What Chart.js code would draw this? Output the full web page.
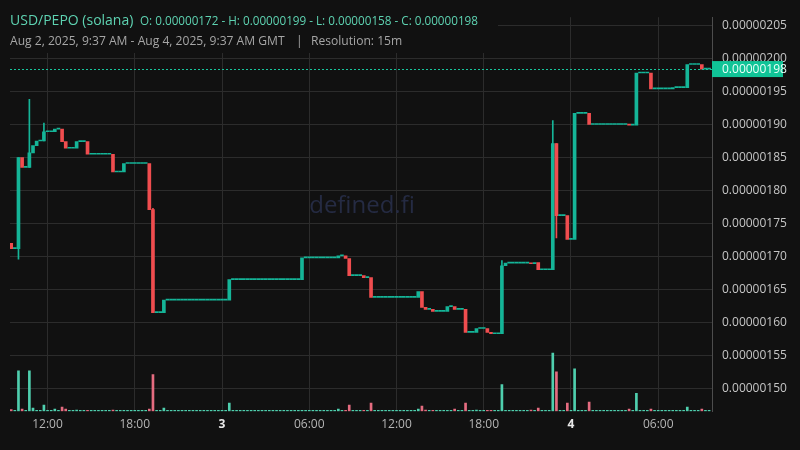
<!DOCTYPE html>
<html>
<head>
<meta charset="utf-8">
<script src="https://cdn.jsdelivr.net/npm/chart.js@4.4.1/dist/chart.umd.min.js"></script>
<style>
  html, body { margin: 0; padding: 0; background: #111111; }
  #wrap { width: 800px; height: 450px; }
</style>
</head>
<body>
<div id="wrap"><canvas id="pepoChart" width="800" height="450"></canvas></div>
<script>
// 15m candles, Aug 2 09:30 -> Aug 4 09:30 (GMT), prices in units of 1e-8
const startHour = 9.5;      // hours after Aug 2 00:00
const stepHour = 0.25;      // resolution 15m

const opens = [
  172.0, 171.2, 171.2, 185.0, 183.5, 183.5, 185.7, 186.8, 187.5, 187.5,
  188.9, 188.9, 188.9, 189.3, 189.3, 187.4, 186.4, 186.4, 186.4, 187.4,
  187.4, 187.4, 185.5, 185.5, 185.5, 185.5, 185.5, 185.5, 185.5, 182.8,
  182.8, 182.8, 184.1, 184.1, 184.1, 184.1, 184.1, 184.1, 184.1, 177.1,
  161.5, 161.5, 161.5, 163.4, 163.4, 163.4, 163.4, 163.4, 163.4, 163.4,
  163.4, 163.4, 163.4, 163.4, 163.4, 163.4, 163.4, 163.4, 163.4, 163.4,
  163.4, 166.5, 166.5, 166.5, 166.5, 166.5, 166.5, 166.5, 166.5, 166.5,
  166.5, 166.5, 166.5, 166.5, 166.5, 166.5, 166.5, 166.5, 166.5, 166.5,
  166.5, 169.8, 169.8, 169.8, 169.8, 169.8, 169.8, 169.8, 169.8, 169.8,
  169.8, 170.1, 170.1, 169.7, 167.1, 167.1, 167.1, 167.1, 166.8, 166.8,
  163.8, 163.8, 163.8, 163.8, 163.8, 163.8, 163.8, 163.8, 163.8, 163.8,
  163.8, 163.8, 163.8, 164.7, 162.3, 162.0, 162.0, 161.7, 161.7, 161.7,
  161.7, 162.4, 162.4, 162.0, 162.0, 162.0, 158.5, 158.5, 158.5, 159.1,
  159.1, 159.1, 158.5, 158.3, 158.3, 158.3, 168.6, 169.0, 169.0, 169.0,
  169.0, 169.0, 169.0, 169.0, 168.9, 169.1, 168.0, 168.0, 168.0, 168.0,
  187.1, 176.2, 176.2, 176.2, 172.6, 172.6, 191.7, 191.7, 191.7, 191.7,
  190.0, 190.0, 190.0, 190.0, 190.0, 190.0, 190.0, 190.0, 190.0, 190.0,
  190.0, 189.9, 189.9, 197.8, 197.8, 197.8, 197.8, 195.4, 195.4, 195.4,
  195.4, 195.4, 195.4, 195.6, 195.6, 195.6, 195.6, 199.1, 199.1, 199.1,
  199.1, 198.4, 198.4
];

const closes = [
  171.2, 171.2, 185.0, 183.5, 183.5, 185.7, 186.8, 187.5, 187.5, 188.9,
  188.9, 188.9, 189.3, 189.3, 187.4, 186.4, 186.4, 186.4, 187.4, 187.4,
  187.4, 185.5, 185.5, 185.5, 185.5, 185.5, 185.5, 185.5, 182.8, 182.8,
  182.8, 184.1, 184.1, 184.1, 184.1, 184.1, 184.1, 184.1, 177.1, 161.5,
  161.5, 161.5, 163.4, 163.4, 163.4, 163.4, 163.4, 163.4, 163.4, 163.4,
  163.4, 163.4, 163.4, 163.4, 163.4, 163.4, 163.4, 163.4, 163.4, 163.4,
  166.5, 166.5, 166.5, 166.5, 166.5, 166.5, 166.5, 166.5, 166.5, 166.5,
  166.5, 166.5, 166.5, 166.5, 166.5, 166.5, 166.5, 166.5, 166.5, 166.5,
  169.8, 169.8, 169.8, 169.8, 169.8, 169.8, 169.8, 169.8, 169.8, 169.8,
  170.1, 170.1, 169.7, 167.1, 167.1, 167.1, 167.1, 166.8, 166.8, 163.8,
  163.8, 163.8, 163.8, 163.8, 163.8, 163.8, 163.8, 163.8, 163.8, 163.8,
  163.8, 163.8, 164.7, 162.3, 162.0, 162.0, 161.7, 161.7, 161.7, 161.7,
  162.4, 162.4, 162.0, 162.0, 162.0, 158.5, 158.5, 158.5, 159.1, 159.1,
  159.1, 158.5, 158.3, 158.3, 158.3, 168.6, 169.0, 169.0, 169.0, 169.0,
  169.0, 169.0, 169.0, 168.9, 169.1, 168.0, 168.0, 168.0, 168.0, 187.1,
  176.2, 176.2, 176.2, 172.6, 172.6, 191.7, 191.7, 191.7, 191.7, 190.0,
  190.0, 190.0, 190.0, 190.0, 190.0, 190.0, 190.0, 190.0, 190.0, 190.0,
  189.9, 189.9, 197.8, 197.8, 197.8, 197.8, 195.4, 195.4, 195.4, 195.4,
  195.4, 195.4, 195.6, 195.6, 195.6, 195.6, 199.1, 199.1, 199.1, 199.1,
  198.4, 198.4, 198.4
];

// candles with a visible wick beyond the body
const wickIndex = [2, 5, 9, 39, 135, 149, 150];
const wickLow   = [169.6, 183.5, 187.5, 161.5, 158.3, 168.0, 172.8];
const wickHigh  = [185.0, 193.8, 190.2, 177.3, 169.4, 190.6, 187.1];

// relative volume (no scale shown on the chart)
const volumes = [
  1.7, 0.6, 41.3, 2.3, 0.6, 41.3, 3.3, 1.0, 0.6, 6.3,
  0.6, 0.6, 2.3, 0.6, 4.3, 2.3, 0.6, 0.6, 1.3, 0.6,
  0.6, 1.0, 0.6, 0.6, 0.6, 0.6, 0.6, 0.6, 1.3, 0.6,
  0.6, 1.0, 0.6, 0.6, 0.6, 0.6, 0.6, 0.6, 2.3, 37.3,
  0.6, 0.6, 3.3, 0.6, 0.6, 0.6, 0.6, 0.6, 0.6, 0.6,
  0.6, 0.6, 0.6, 0.6, 0.6, 0.6, 0.6, 0.6, 0.6, 0.6,
  8.3, 0.6, 0.6, 0.6, 0.6, 0.6, 0.6, 0.6, 0.6, 0.6,
  0.6, 0.6, 0.6, 0.6, 0.6, 0.6, 0.6, 0.6, 0.6, 0.6,
  1.0, 0.6, 0.6, 0.6, 0.6, 0.6, 0.6, 0.6, 0.6, 0.6,
  2.3, 0.6, 0.6, 6.3, 0.6, 0.6, 0.6, 0.6, 0.6, 8.3,
  0.6, 0.6, 0.6, 0.6, 0.6, 0.6, 0.6, 0.6, 0.6, 0.6,
  0.6, 0.6, 2.3, 5.3, 1.3, 0.6, 0.6, 0.6, 0.6, 0.6,
  0.6, 0.6, 2.3, 0.6, 0.6, 8.3, 0.6, 0.6, 1.3, 0.6,
  0.6, 0.6, 0.6, 0.6, 0.6, 27.3, 0.6, 0.6, 0.6, 0.6,
  0.6, 0.6, 0.6, 1.3, 0.6, 3.3, 0.6, 0.6, 0.6, 59.3,
  40.3, 0.6, 0.6, 8.3, 0.6, 43.3, 0.6, 0.6, 0.6, 9.3,
  0.6, 0.6, 0.6, 0.6, 0.6, 0.6, 0.6, 0.6, 0.6, 0.6,
  2.3, 0.6, 18.3, 0.6, 0.6, 0.6, 2.3, 0.6, 0.6, 0.6,
  0.6, 0.6, 0.6, 0.6, 0.6, 0.6, 4.3, 0.6, 0.6, 0.6,
  2.3, 0.6, 0.6
];

const xTickHours  = [12, 18, 24, 30, 36, 42, 48, 54];
const xTickLabels = ["12:00", "18:00", "3", "06:00", "12:00", "18:00", "4", "06:00"];
const yTickValues = [150, 155, 160, 165, 170, 175, 180, 185, 190, 195, 200, 205];
const yTickLabels = ["0.00000150", "0.00000155", "0.00000160", "0.00000165", "0.00000170", "0.00000175",
                     "0.00000180", "0.00000185", "0.00000190", "0.00000195", "0.00000200", "0.00000205"];

const lastPrice = 198.4;
const lastPriceLabel = "0.00000198";
const titleText = "USD/PEPO (solana)";
const ohlcText = "O: 0.00000172 - H: 0.00000199 - L: 0.00000158 - C: 0.00000198";
const rangeText = "Aug 2, 2025, 9:37 AM - Aug 4, 2025, 9:37 AM GMT";
const resText = "Resolution: 15m";

const BG = "#111111";
const UP = "#15b598";
const DOWN = "#f04d4f";
const VOL_UP = "#4fcfae";
const VOL_DOWN = "#e56c80";
const GRID = "#2c2c2c";
const FONT = "'Open Sans', 'Noto Sans', sans-serif";

console.log("lengths", opens.length, closes.length, volumes.length);

const hours = closes.map((c, i) => startHour + stepHour * i);
const isDown = closes.map((c, i) => c < opens[i]);

const bodyData = closes.map((c, i) => ({ x: hours[i], y: [Math.min(opens[i], c), Math.max(opens[i], c)] }));
const wickData = wickIndex.map((idx, k) => ({ x: hours[idx], y: [wickLow[k], wickHigh[k]] }));
const volData = volumes.map((v, i) => ({ x: hours[i], y: v }));

const overlayPlugin = {
    id: "overlay",
    beforeDatasetsDraw(chart) {
        const c = chart.ctx;
        const a = chart.chartArea;
        c.save();
        c.font = "24px " + FONT;
        c.fillStyle = "#252b43";
        c.textAlign = "center";
        c.textBaseline = "middle";
        c.fillText("defined.fi", (a.left + a.right) / 2 + 1, 206);
        c.restore();
    },
    afterDraw(chart) {
        const c = chart.ctx;
        const a = chart.chartArea;
        const y = chart.scales.y.getPixelForValue(lastPrice);
        c.save();
        // last price dashed line
        c.strokeStyle = "#17c49b";
        c.lineWidth = 1;
        c.setLineDash([2, 2]);
        c.beginPath();
        c.moveTo(a.left, Math.round(y) + 0.5);
        c.lineTo(a.right, Math.round(y) + 0.5);
        c.stroke();
        c.setLineDash([]);
        // price tag on the axis
        c.fillStyle = "#10c497";
        c.fillRect(a.right, y - 8, 71, 16);
        c.font = "12px " + FONT;
        c.fillStyle = "#e9fff8";
        c.textBaseline = "middle";
        c.textAlign = "left";
        c.fillText(lastPriceLabel, a.right + 10, y + 0.5);

        // legend header
        c.fillStyle = BG;
        c.fillRect(0, 0, 498, 53);
        c.textBaseline = "alphabetic";
        c.fillStyle = "#5ed3b2";
        c.font = "14px " + FONT;
        c.fillText(titleText, 10, 25);
        c.font = "11.7px " + FONT;
        c.fillText(ohlcText, 140, 25);
        c.fillStyle = "#a6a6a6";
        c.font = "12.1px " + FONT;
        c.fillText(rangeText, 10, 45);
        c.fillText("|", 296, 45);
        c.fillText(resText, 311, 45);
        c.restore();
    }
};

const ctx = document.getElementById("pepoChart").getContext("2d");
const chart = new Chart(ctx, {
    type: "bar",
    data: {
        datasets: [
            {
                label: "Volume",
                data: volData,
                yAxisID: "vol",
                backgroundColor: isDown.map(d => d ? VOL_DOWN : VOL_UP),
                barThickness: 2,
                minBarLength: 1,
                grouped: false,
                order: 3
            },
            {
                label: "Wick",
                data: wickData,
                yAxisID: "y",
                backgroundColor: wickIndex.map(idx => isDown[idx] ? DOWN : UP),
                barThickness: 1,
                grouped: false,
                order: 1
            },
            {
                label: "Body",
                data: bodyData,
                yAxisID: "y",
                backgroundColor: isDown.map(d => d ? DOWN : UP),
                barThickness: 3,
                minBarLength: 1,
                grouped: false,
                order: 2
            }
        ]
    },
    options: {
        responsive: false,
        animation: false,
        layout: { padding: { left: 10, top: 10, right: 0, bottom: 0 } },
        plugins: {
            legend: { display: false },
            tooltip: { enabled: false }
        },
        scales: {
            x: {
                type: "linear",
                offset: false,
                min: 9.4175,
                max: 57.70,
                afterBuildTicks: axis => { axis.ticks = xTickHours.map(v => ({ value: v })); },
                afterFit: axis => { axis.height = 38.7; },
                grid: { color: GRID, drawTicks: false, offset: false },
                border: { display: false },
                ticks: {
                    padding: 6,
                    maxRotation: 0,
                    autoSkip: false,
                    callback: (v, i) => xTickLabels[i],
                    color: c => xTickLabels[c.index] && xTickLabels[c.index].length === 1 ? "#e8e8e8" : "#b5b5b5",
                    font: c => ({
                        family: FONT,
                        size: 12,
                        weight: xTickLabels[c.index] && xTickLabels[c.index].length === 1 ? "bold" : "normal"
                    })
                }
            },
            y: {
                position: "right",
                min: 146.55,
                max: 206.26,
                afterBuildTicks: axis => { axis.ticks = yTickValues.map(v => ({ value: v })); },
                afterFit: axis => { axis.width = 88; },
                grid: { color: GRID, drawTicks: false },
                border: { display: true, color: "#4d4d4d" },
                ticks: {
                    padding: 10,
                    autoSkip: false,
                    callback: (v, i) => yTickLabels[i],
                    color: "#c6c6c6",
                    font: { family: FONT, size: 12 }
                }
            },
            vol: {
                display: false,
                min: 0,
                max: 401.3
            }
        }
    },
    plugins: [overlayPlugin]
});
</script>
</body>
</html>
